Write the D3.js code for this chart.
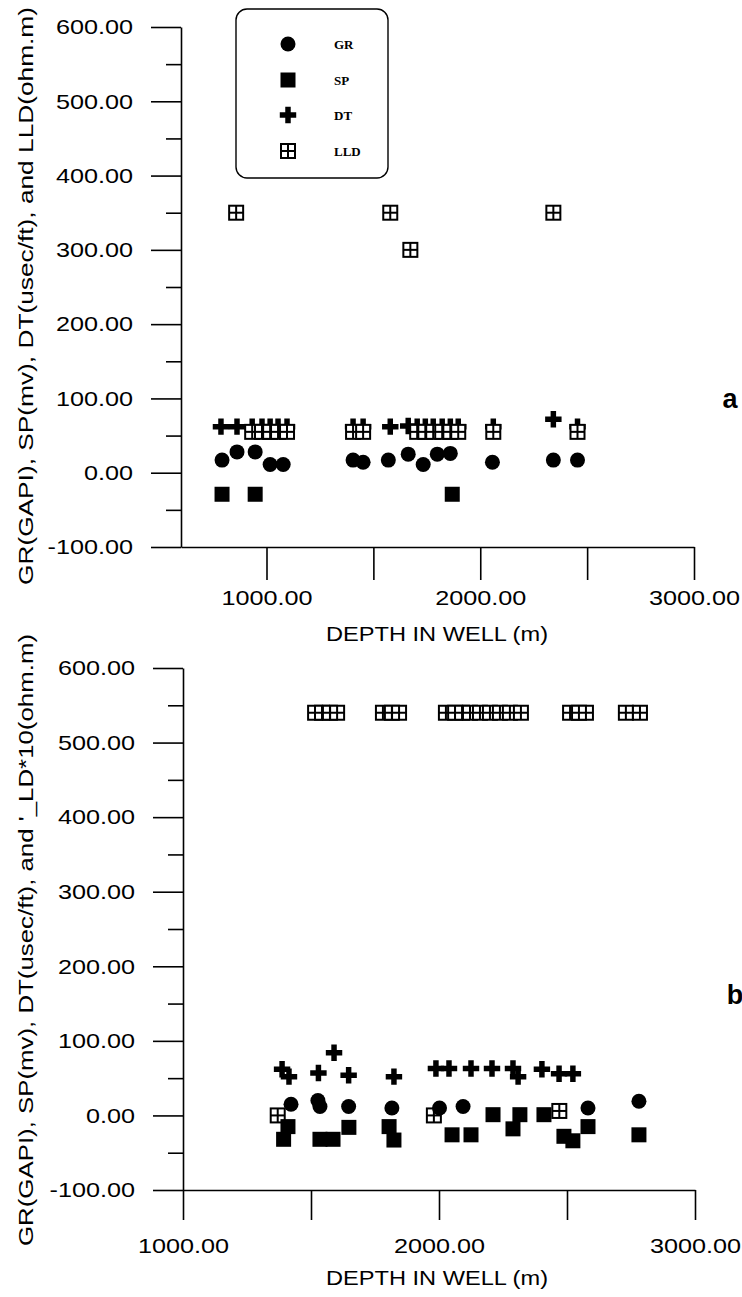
<!DOCTYPE html>
<html><head><meta charset="utf-8">
<script src="https://cdn.jsdelivr.net/npm/d3@7"></script>
<style>body{margin:0;background:#fff}svg{display:block}</style>
</head><body>
<svg id="c" width="742" height="1297"></svg>
<script>
// ---------- data ----------
const xTickValues = [1000, 1500, 2000, 2500, 3000];
const xLabelValues = [1000, 2000, 3000];
const yTickValues = [-100, 0, 100, 200, 300, 400, 500, 600];
const yMinorValues = [-50, 50, 150, 250, 350, 450, 550];
const seriesNames = ["GR", "SP", "DT", "LLD"];

// panel a
const aGRDepth = [792, 862, 947, 1017, 1078, 1405, 1452, 1570, 1663, 1733, 1799, 1860, 2057, 2342, 2455];
const aGRValue = [17, 28, 28, 11, 11, 17, 14, 17, 25, 11, 25, 26, 14, 17, 17];
const aSPDepth = [792, 947, 1869];
const aSPValue = [-29, -29, -29];
const aDTDepth = [787, 862, 933, 979, 1017, 1054, 1096, 1405, 1452, 1579, 1663, 1705, 1743, 1780, 1822, 1860, 1897, 2061, 2342, 2455];
const aDTValue = [62, 62, 62, 62, 62, 62, 62, 62, 62, 62, 63, 62, 62, 62, 62, 62, 62, 62, 72, 62];
const aLLDDepth = [933, 979, 1017, 1054, 1096, 1405, 1452, 1705, 1743, 1780, 1822, 1860, 1897, 2061, 2455, 858, 1579, 1673, 2342];
const aLLDValue = [55, 55, 55, 55, 55, 55, 55, 55, 55, 55, 55, 55, 55, 55, 55, 350, 350, 300, 350];

// panel b
const bGRDepth = [1422, 1527, 1535, 1647, 1816, 2002, 2094, 2582, 2781];
const bGRValue = [15, 20, 12, 12, 10, 10, 12, 10, 19];
const bSPDepth = [1393, 1410, 1535, 1586, 1648, 1805, 1824, 2051, 2125, 2211, 2289, 2316, 2410, 2488, 2523, 2582, 2781];
const bSPValue = [-32, -15, -32, -32, -16, -15, -33, -26, -26, 1, -18, 1, 1, -28, -34, -15, -26];
const bDTDepth = [1387, 1414, 1529, 1590, 1647, 1824, 1988, 2039, 2125, 2207, 2289, 2309, 2402, 2469, 2523];
const bDTValue = [62, 52, 57, 84, 54, 52, 63, 63, 63, 63, 63, 52, 62, 56, 56];
const bLLDDepth = [1516, 1543, 1574, 1602, 1781, 1816, 1844, 2027, 2063, 2090, 2121, 2160, 2199, 2238, 2277, 2320, 2512, 2547, 2574, 2730, 2785, 1370, 1980, 2470];
const bLLDValue = [540, 540, 540, 540, 540, 540, 540, 540, 540, 540, 540, 540, 540, 540, 540, 540, 540, 540, 540, 540, 540, 0, 0, 6];

// ---------- drawing ----------
const svg = d3.select("#c");
const SANS = "'Liberation Sans', Arial, Helvetica, sans-serif";
const SERIF = "'Liberation Serif', 'Times New Roman', serif";

function stretch(sel, f) {
  sel.each(function () {
    const L = this.getComputedTextLength();
    this.setAttribute("textLength", (L * f).toFixed(1));
    this.setAttribute("lengthAdjust", "spacingAndGlyphs");
  });
}

function zip(d, v) { return d.map((dd, i) => ({ d: dd, v: v[i] })); }

function drawMarker(g, type, cx, cy) {
  if (type === "GR") {
    g.append("circle").attr("cx", cx).attr("cy", cy).attr("r", 7.5).attr("fill", "#000");
  } else if (type === "SP") {
    g.append("rect").attr("x", cx - 7.5).attr("y", cy - 7.5).attr("width", 15).attr("height", 15).attr("fill", "#000");
  } else if (type === "DT") {
    g.append("path").attr("transform", `translate(${cx},${cy})`)
      .attr("d", d3.symbol(d3.symbolCross, 150)()).attr("fill", "#000");
  } else {
    const s = 14;
    g.append("rect").attr("x", cx - s / 2).attr("y", cy - s / 2).attr("width", s).attr("height", s)
      .attr("fill", "#fff").attr("stroke", "#000").attr("stroke-width", 2);
    g.append("line").attr("x1", cx).attr("x2", cx).attr("y1", cy - s / 2).attr("y2", cy + s / 2)
      .attr("stroke", "#000").attr("stroke-width", 2);
    g.append("line").attr("x1", cx - s / 2).attr("x2", cx + s / 2).attr("y1", cy).attr("y2", cy)
      .attr("stroke", "#000").attr("stroke-width", 2);
  }
}

function panel(o) {
  const x = d3.scaleLinear().domain(o.xDomain).range(o.xRange);
  const y = d3.scaleLinear().domain([-100, 600]).range(o.yRange);
  const g = svg.append("g");

  // x axis
  const gx = g.append("g").attr("transform", `translate(0,${o.yRange[0]})`)
    .call(d3.axisBottom(x).tickValues(xTickValues).tickSize(o.xTickLen).tickSizeOuter(0)
      .tickPadding(o.xPad).tickFormat(d => xLabelValues.includes(d) ? d.toFixed(2) : ""));
  // y axis major
  const gy = g.append("g").attr("transform", `translate(${o.xRange[0]},0)`)
    .call(d3.axisLeft(y).tickValues(yTickValues).tickSize(30).tickSizeOuter(0)
      .tickPadding(18).tickFormat(d => d.toFixed(2)));
  // y axis minor
  const gm = g.append("g").attr("transform", `translate(${o.xRange[0]},0)`)
    .call(d3.axisLeft(y).tickValues(yMinorValues).tickSize(15).tickSizeOuter(0).tickFormat(""));
  gm.select(".domain").remove();

  [gx, gy, gm].forEach(a => {
    a.attr("font-family", null).attr("font-size", null);
    a.selectAll("path,line").attr("stroke", "#000").attr("stroke-width", 1.6);
    a.selectAll("text").attr("fill", "#000").style("font-family", SANS).style("font-size", "21px");
  });
  stretch(gx.selectAll("text").filter(function () { return this.textContent !== ""; }), 1.2);
  stretch(gy.selectAll("text"), 1.2);

  // titles
  const t = g.append("text").attr("x", o.titleX).attr("y", o.titleY).attr("text-anchor", "middle")
    .style("font-family", SANS).style("font-size", "20px").text("DEPTH IN WELL (m)");
  stretch(t, 1.18);
  g.append("text").attr("transform", `translate(${o.yLabelX},${o.yLabelY}) rotate(-90)`)
    .attr("text-anchor", "middle").style("font-family", SANS).style("font-size", "20px")
    .attr("textLength", o.yLabelLen).attr("lengthAdjust", "spacingAndGlyphs").text(o.yLabel);
  g.append("text").attr("x", o.tagX).attr("y", o.tagY).attr("text-anchor", "middle")
    .style("font-family", SANS).style("font-size", "27px").style("font-weight", "bold").text(o.tag);

  // marks
  const mg = g.append("g");
  o.order.forEach(name => {
    zip(o.data[name][0], o.data[name][1]).forEach(p => drawMarker(mg, name, x(p.d), y(p.v)));
  });
  return { x, y, g };
}

panel({
  xDomain: [600, 3000], xRange: [181, 694], yRange: [547, 27],
  xTickLen: 33, xPad: 10,
  titleX: 437, titleY: 641,
  yLabel: "GR(GAPI), SP(mv), DT(usec/ft), and LLD(ohm.m)", yLabelX: 33, yLabelY: 296, yLabelLen: 578,
  tag: "a", tagX: 730, tagY: 408,
  order: ["SP", "GR", "DT", "LLD"],
  data: { GR: [aGRDepth, aGRValue], SP: [aSPDepth, aSPValue], DT: [aDTDepth, aDTValue], LLD: [aLLDDepth, aLLDValue] }
});

panel({
  xDomain: [1000, 3000], xRange: [183, 695], yRange: [1190, 668],
  xTickLen: 30, xPad: 18,
  titleX: 437, titleY: 1285,
  yLabel: "GR(GAPI), SP(mv), DT(usec/ft), and '_LD*10(ohm.m)", yLabelX: 33, yLabelY: 940, yLabelLen: 612,
  tag: "b", tagX: 735, tagY: 1004,
  order: ["LLD", "SP", "GR", "DT"],
  data: { GR: [bGRDepth, bGRValue], SP: [bSPDepth, bSPValue], DT: [bDTDepth, bDTValue], LLD: [bLLDDepth, bLLDValue] }
});

// legend (panel a)
const lg = svg.append("g");
lg.append("rect").attr("x", 236).attr("y", 9).attr("width", 152).attr("height", 169).attr("rx", 11)
  .attr("fill", "#fff").attr("stroke", "#000").attr("stroke-width", 1.4);
const legendY = [44, 80, 115, 151];
seriesNames.forEach((n, i) => {
  drawMarker(lg, n, 288, legendY[i]);
  lg.append("text").attr("x", 334).attr("y", legendY[i] + 5).style("font-family", SERIF)
    .style("font-size", "13px").style("font-weight", "bold").text(n);
});
</script>
</body></html>
